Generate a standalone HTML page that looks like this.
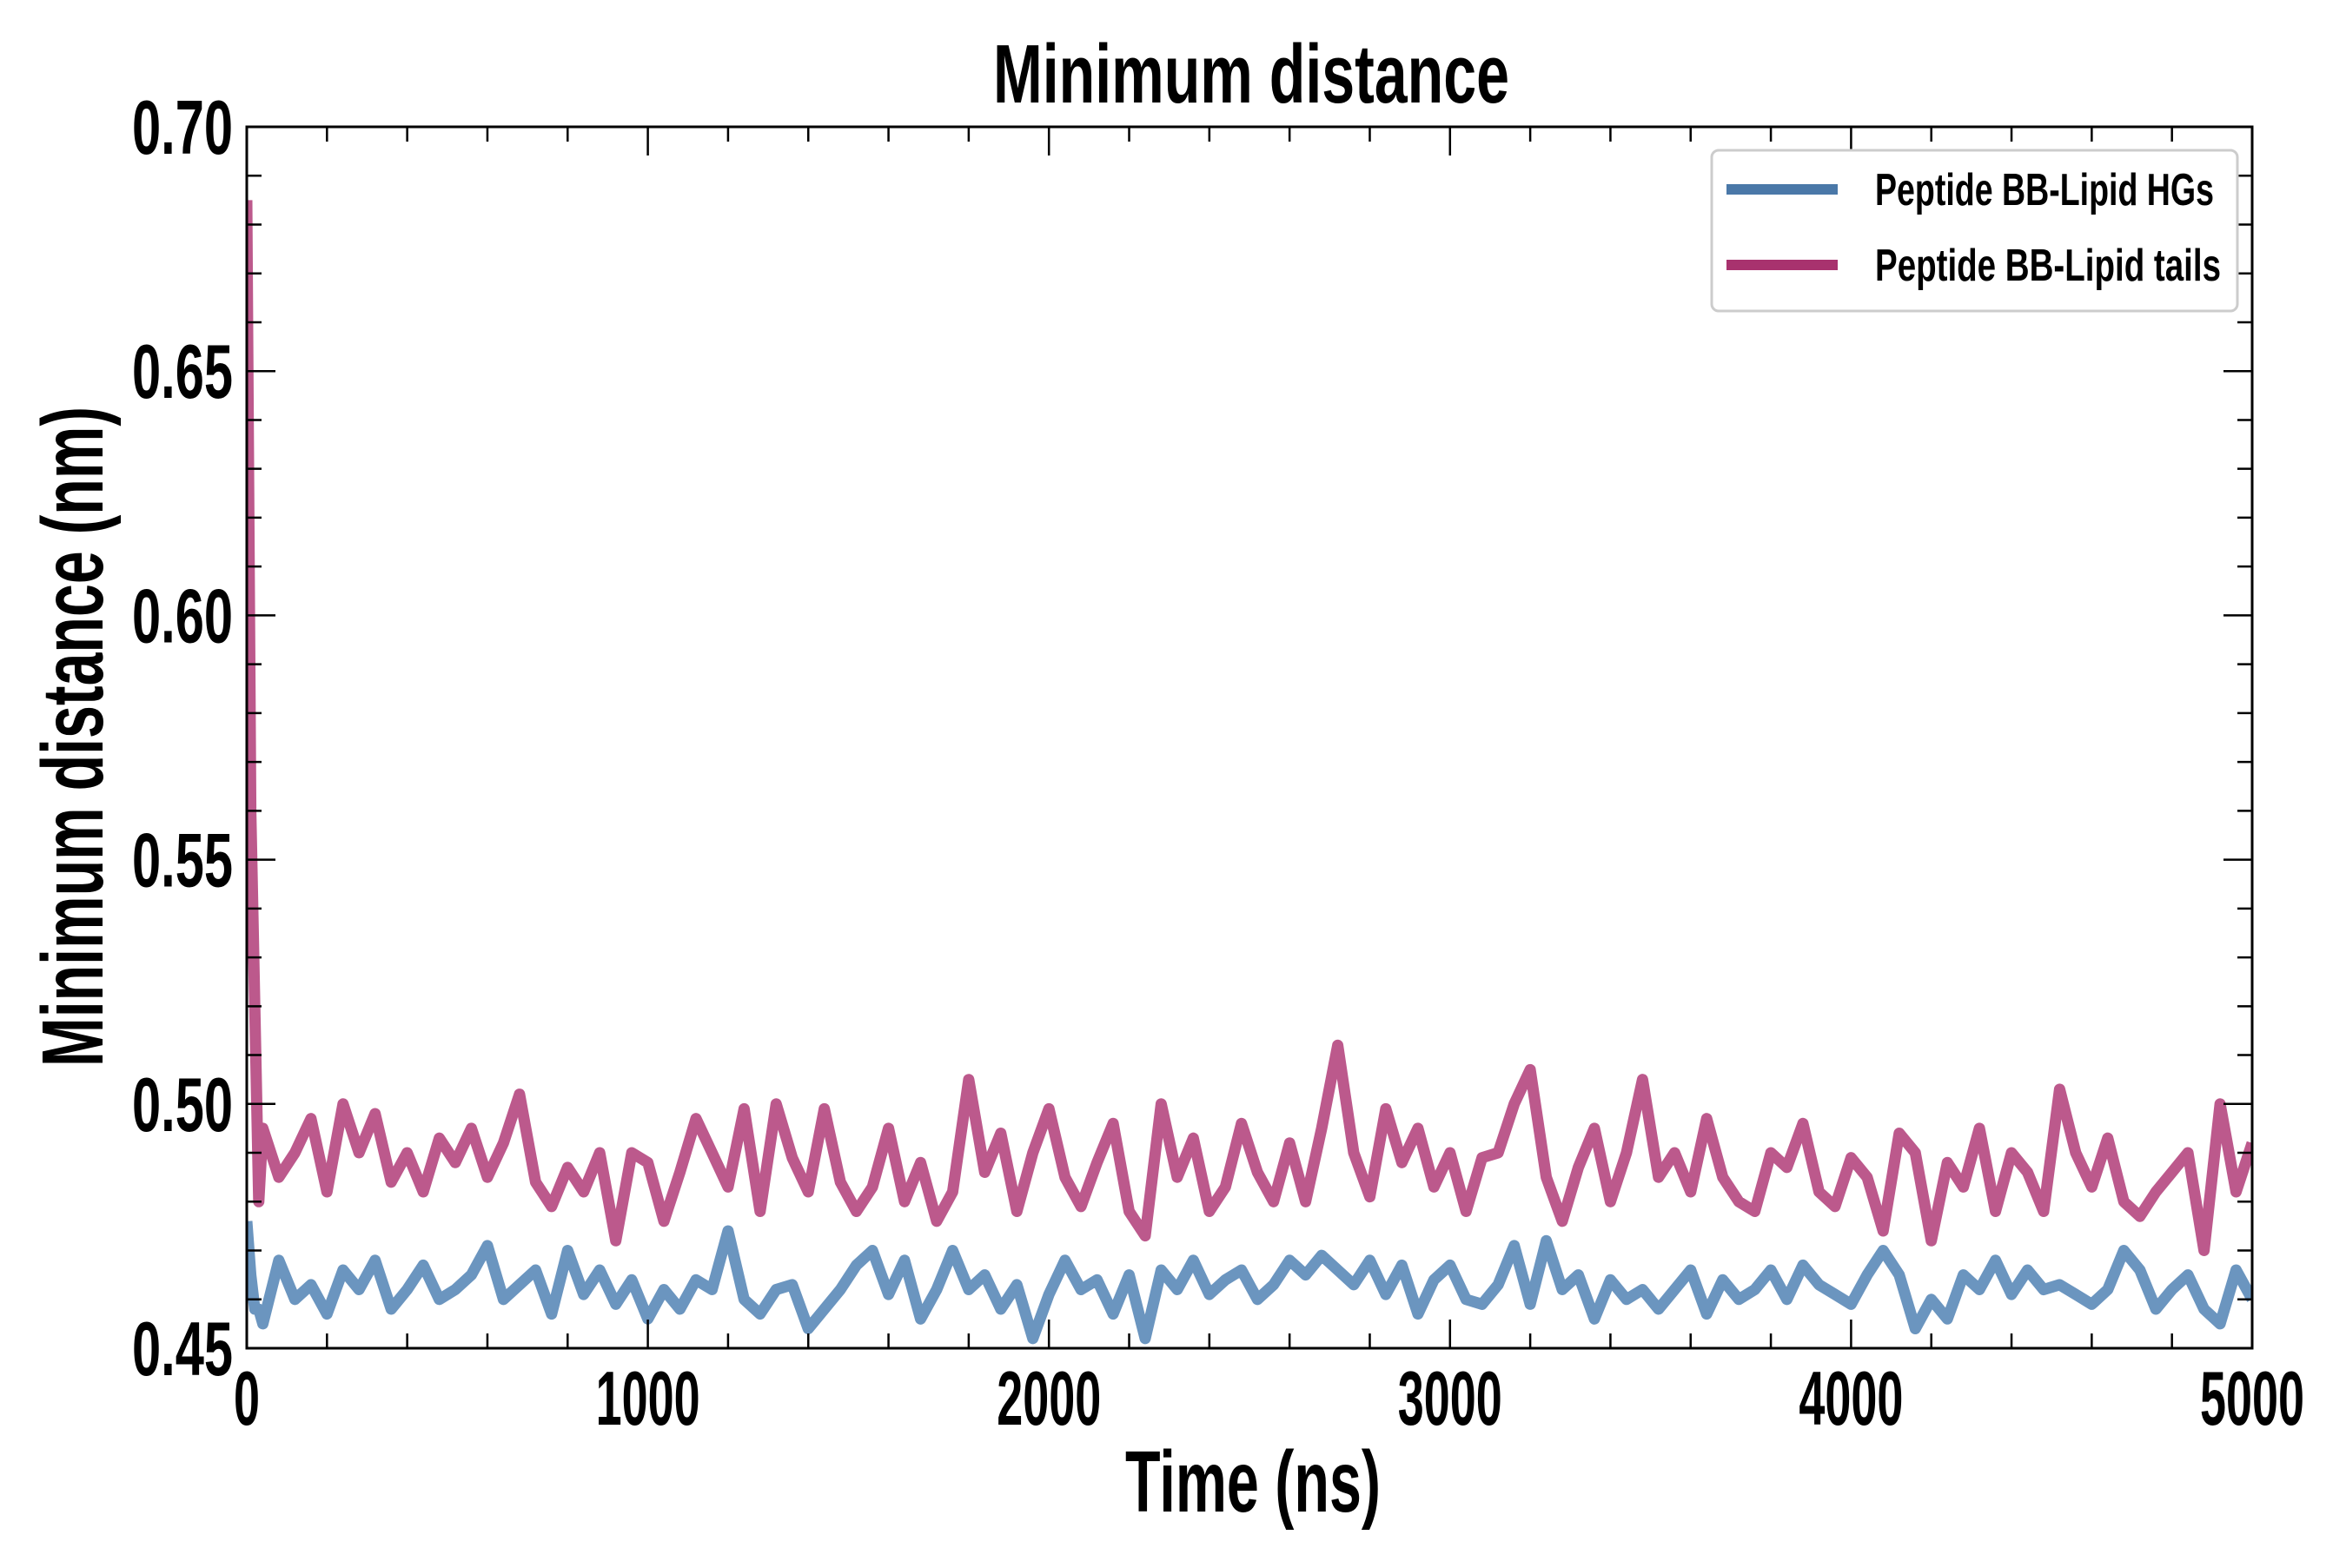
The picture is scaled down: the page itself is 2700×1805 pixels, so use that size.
<!DOCTYPE html>
<html><head><meta charset="utf-8"><style>
html,body{margin:0;padding:0;background:#fff;}
svg text{font-family:"Liberation Sans Narrow","Liberation Sans",sans-serif;font-weight:bold;fill:#000;}
</style></head><body>
<svg id="chart" width="2700" height="1800" viewBox="0 0 2700 1800" xmlns="http://www.w3.org/2000/svg">
<rect width="2700" height="1800" fill="#fff"/>
<g id="marks"></g>
<g id="axes"></g>
<text x="1440" y="118" font-size="96" text-anchor="middle" textLength="594" lengthAdjust="spacingAndGlyphs">Minimum distance</text>
<text x="1442" y="1740" font-size="100" text-anchor="middle" textLength="294" lengthAdjust="spacingAndGlyphs">Time (ns)</text>
<text transform="translate(118,848) rotate(-90)" font-size="100" text-anchor="middle" textLength="760" lengthAdjust="spacingAndGlyphs">Minimum distance (nm)</text>
<g>
<rect x="1970" y="173" width="605" height="185" rx="8" fill="#fff" stroke="#ccc" stroke-width="3"/>
<line x1="1987" y1="218" x2="2115" y2="218" stroke="#4a78a8" stroke-width="12"/>
<text x="2158" y="236" font-size="52" textLength="390" lengthAdjust="spacingAndGlyphs">Peptide BB-Lipid HGs</text>
<line x1="1987" y1="305" x2="2115" y2="305" stroke="#a8326e" stroke-width="12"/>
<text x="2158" y="323" font-size="52" textLength="398" lengthAdjust="spacingAndGlyphs">Peptide BB-Lipid tails</text>
</g>
</svg>
<script>
const timesTails=[0,10,20,30,40,80,120,160,200,240,280,320,360,400,440,480,520,560,600,640,680,720,760,800,840,880,920,960,1000,1040,1080,1120,1160,1200,1240,1280,1320,1360,1400,1440,1480,1520,1560,1600,1640,1680,1720,1760,1800,1840,1880,1920,1960,2000,2040,2080,2120,2160,2200,2240,2280,2320,2360,2400,2440,2480,2520,2560,2600,2640,2680,2720,2760,2800,2840,2880,2920,2960,3000,3040,3080,3120,3160,3200,3240,3280,3320,3360,3400,3440,3480,3520,3560,3600,3640,3680,3720,3760,3800,3840,3880,3920,3960,4000,4040,4080,4120,4160,4200,4240,4280,4320,4360,4400,4440,4480,4520,4560,4600,4640,4680,4720,4760,4800,4840,4880,4920,4960,5000];
const tailsValues=[0.685,0.56,0.52,0.48,0.495,0.485,0.49,0.497,0.482,0.50,0.49,0.498,0.484,0.49,0.482,0.493,0.488,0.495,0.485,0.492,0.502,0.484,0.479,0.487,0.482,0.49,0.472,0.49,0.488,0.476,0.486,0.497,0.49,0.483,0.499,0.478,0.5,0.489,0.482,0.499,0.484,0.478,0.483,0.495,0.48,0.488,0.476,0.482,0.505,0.486,0.494,0.478,0.49,0.499,0.485,0.479,0.488,0.496,0.478,0.473,0.5,0.485,0.493,0.478,0.483,0.496,0.486,0.48,0.492,0.48,0.495,0.512,0.49,0.481,0.499,0.488,0.495,0.483,0.49,0.478,0.489,0.49,0.5,0.507,0.485,0.476,0.487,0.495,0.48,0.49,0.505,0.485,0.49,0.482,0.497,0.485,0.48,0.478,0.49,0.487,0.496,0.482,0.479,0.489,0.485,0.474,0.494,0.49,0.472,0.488,0.483,0.495,0.478,0.49,0.486,0.478,0.503,0.49,0.483,0.493,0.48,0.477,0.482,0.486,0.49,0.47,0.5,0.482,0.492];
const timesHGs=timesTails;
const hgsValues=[0.476,0.465,0.458,0.458,0.455,0.468,0.46,0.463,0.457,0.466,0.462,0.468,0.458,0.462,0.467,0.46,0.462,0.465,0.471,0.46,0.463,0.466,0.457,0.47,0.461,0.466,0.459,0.464,0.456,0.462,0.458,0.464,0.462,0.474,0.46,0.457,0.462,0.463,0.454,0.458,0.462,0.467,0.47,0.461,0.468,0.456,0.462,0.47,0.462,0.465,0.458,0.463,0.452,0.461,0.468,0.462,0.464,0.457,0.465,0.452,0.466,0.462,0.468,0.461,0.464,0.466,0.46,0.463,0.468,0.465,0.469,0.466,0.463,0.468,0.461,0.467,0.457,0.464,0.467,0.46,0.459,0.463,0.471,0.459,0.472,0.462,0.465,0.456,0.464,0.46,0.462,0.458,0.462,0.466,0.457,0.464,0.46,0.462,0.466,0.46,0.467,0.463,0.461,0.459,0.465,0.47,0.465,0.454,0.46,0.456,0.465,0.462,0.468,0.461,0.466,0.462,0.463,0.461,0.459,0.462,0.47,0.466,0.458,0.462,0.465,0.458,0.455,0.466,0.46];
const xTicks=[0,1000,2000,3000,4000,5000];
const yTicks=[0.45,0.50,0.55,0.60,0.65,0.70];
const yTickLabels=["0.45","0.50","0.55","0.60","0.65","0.70"];

const L=284,R=2592,T=146,B=1552;
const xS=t=>L+(t-0)/(5000-0)*(R-L);
const yS=v=>B-(v-0.45)/(0.70-0.45)*(B-T);
const NS="http://www.w3.org/2000/svg";
const marks=document.getElementById('marks');
const axes=document.getElementById('axes');
function mk(tag,attrs,parent){const e=document.createElementNS(NS,tag);for(const k in attrs)e.setAttribute(k,attrs[k]);parent.appendChild(e);return e;}

const cp=mk('clipPath',{id:'clip'},marks);
mk('rect',{x:L,y:T,width:R-L,height:B-T},cp);

const pTails=mk('path',{d:timesTails.map((t,i)=>(i?'L':'M')+xS(t).toFixed(1)+','+yS(tailsValues[i]).toFixed(1)).join(''),fill:'none',stroke:'#b5477f','stroke-opacity':'0.9','stroke-width':'13','stroke-linejoin':'round','clip-path':'url(#clip)'},marks);


const pHGs=mk('path',{d:timesHGs.map((t,i)=>(i?'L':'M')+xS(t).toFixed(1)+','+yS(hgsValues[i]).toFixed(1)).join(''),fill:'none',stroke:'#5b89b8','stroke-opacity':'0.9','stroke-width':'13','stroke-linejoin':'round','clip-path':'url(#clip)'},marks);



const frame=mk('rect',{x:L,y:T,width:R-L,height:B-T,fill:'none',stroke:'#000','stroke-width':'3'},axes);



for(let t=0;t<=5000;t+=200){
  const major=t%1000===0,len=major?33:17,x=xS(t);
  mk('line',{x1:x,y1:B,x2:x,y2:B-len,stroke:'#000','stroke-width':'2.5'},axes);
  mk('line',{x1:x,y1:T,x2:x,y2:T+len,stroke:'#000','stroke-width':'2.5'},axes);
}
for(let k=0;k<=25;k++){
  const v=0.45+k*0.01,major=k%5===0,len=major?33:17,y=yS(v);
  mk('line',{x1:L,y1:y,x2:L+len,y2:y,stroke:'#000','stroke-width':'2.5'},axes);
  mk('line',{x1:R,y1:y,x2:R-len,y2:y,stroke:'#000','stroke-width':'2.5'},axes);
}
xTicks.forEach(t=>{
  const s=String(t);
  const tx=mk('text',{x:xS(t),y:1640,'font-size':'88','text-anchor':'middle',textLength:String(s.length*30),lengthAdjust:'spacingAndGlyphs'},axes);
  
  
  tx.textContent=s;
});
yTicks.forEach((v,i)=>{
  const tx=mk('text',{x:268,y:yS(v)+31,'font-size':'88','text-anchor':'end',textLength:'116',lengthAdjust:'spacingAndGlyphs'},axes);
  
  
  tx.textContent=yTickLabels[i];
});
</script>
</body></html>
